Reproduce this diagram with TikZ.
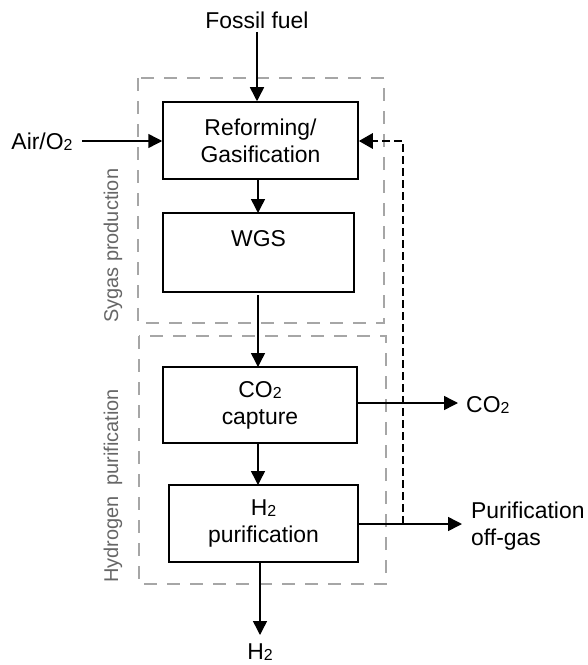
\documentclass[tikz,border=0pt]{standalone}
\usepackage{fontspec}
\setmainfont{Liberation Sans}
\usetikzlibrary{arrows.meta}
\newcommand{\subtwo}{\raisebox{-1.2bp}{\fontsize{16}{16}\selectfont 2}}
\definecolor{framegray}{HTML}{A6A6A6}
\definecolor{labelgray}{HTML}{666666}
\tikzset{
  unit/.style={draw=black, line width=1.5bp, minimum width=#1, inner sep=0pt},
  maintext/.style={font=\fontsize{23}{27}\selectfont, align=center, inner sep=0pt},
  flow/.style={line width=1.5bp, -{Triangle[length=14bp,width=14bp]}},
  recycle/.style={line width=2.8bp, dash pattern=on 8bp off 4bp, -{Triangle[length=14bp,width=15bp]}},
  stage/.style={draw=framegray, line width=2.6bp, dash pattern=on 13bp off 10bp},
  stagelabel/.style={font=\fontsize{20}{22}\selectfont, text=labelgray, rotate=90, anchor=west, inner sep=0pt}
}
\begin{document}
\begin{tikzpicture}[x=1bp, y=-1bp]
\useasboundingbox (0,0) rectangle (588,665);

% dashed stage frames
\draw[stage] (138,78) rectangle (384,323);
\draw[stage] (139,336) rectangle (386,584);
\node[stagelabel] (lsyn) at (113,323) {Sygas production};
\node[stagelabel] (lhyd) at (113,583) {Hydrogen\ \ purification};

% process units
\node[unit=195bp, minimum height=77bp, maintext] (ref) at (260.5,140.5) {Reforming/\\Gasification};
\node[unit=191bp, minimum height=79bp] (wgs) at (258.5,252.5) {};
\node[maintext] (wgstext) at (258.5,239) {WGS};
\node[unit=194bp, minimum height=76bp, maintext] (cap) at (260,405) {CO\subtwo\\capture};
\node[unit=189bp, minimum height=77bp, maintext] (pur) at (263.5,523.5) {H\subtwo\\purification};

% streams
\node[maintext] (fuel) at (257,20) {Fossil fuel};
\node[maintext] (air) at (42,142) {Air/O\subtwo};
\node[maintext, anchor=west] (co2) at (466,405) {CO\subtwo};
\node[maintext, anchor=west, align=left] (offgas) at (471,526) {Purification\\off-gas};
\node[maintext] (h2) at (260,652) {H\subtwo};

\coordinate (fuelend) at (257,32);
\coordinate (airend) at (82,141);
\coordinate (co2tip) at (458,403);
\coordinate (offtip) at (462,524);
\coordinate (h2tip) at (260,635);
\coordinate (split) at (403,524);
\coordinate (bend) at (403,141);

\draw[flow] (fuelend) -- (fuelend |- ref.north);
\draw[flow] (airend) -- (airend -| ref.west);
\draw[flow] (258,179) -- (258,213);
\draw[flow] (258,295) -- (258,367);
\draw[flow] (258,443) -- (258,485);
\draw[flow] (cap.east |- co2tip) -- (co2tip);
\draw[flow] (pur.east |- offtip) -- (offtip);
\draw[flow] (260,562) -- (h2tip);
\draw[recycle] (split) -- (bend) -- (bend -| ref.east);
\end{tikzpicture}
\end{document}
